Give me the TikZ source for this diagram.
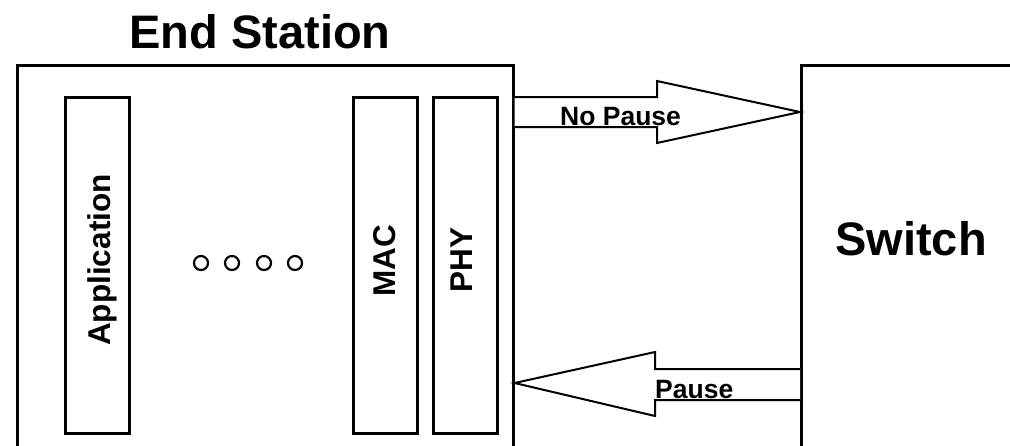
\documentclass[tikz,border=0pt]{standalone}
\usepackage{fontspec}
\setmainfont{Liberation Sans}
\begin{document}
\begin{tikzpicture}[x=1pt,y=-1pt,
  box/.style={draw=black,line width=2.6pt,rectangle,inner sep=0pt,anchor=north west},
  layer/.style={draw=black,line width=2.6pt,rectangle,inner sep=0pt,anchor=north west,minimum width=64pt,minimum height=336pt},
  vlabel/.style={rotate=90,anchor=base,inner sep=0pt,font=\fontsize{31.5}{38}\selectfont\bfseries},
  title/.style={anchor=base,inner sep=0pt,font=\fontsize{47}{56}\selectfont\bfseries},
  alabel/.style={anchor=base west,inner sep=0pt,font=\fontsize{26.5}{32}\selectfont\bfseries},
  blockarrow/.style={draw=black,line width=2pt,fill=white,line join=miter},
  dot/.style={draw=black,line width=2.2pt,circle,minimum size=14pt,inner sep=0pt}]
\clip (0,0) rectangle (1010,445);
\fill[white] (0,0) rectangle (1010,445);
% boxes
\node[box,minimum width=496pt,minimum height=420pt] (es) at (16,64) {};
\node[box,minimum width=260pt,minimum height=420pt] (sw) at (800,64) {};
\node[layer] (app) at (64,96) {};
\node[layer] (mac) at (352,96) {};
\node[layer] (phy) at (432,96) {};
% labels
\node[title] (estitle) at (260,48) {End Station};
\node[title] (swtitle) at (911,255) {Switch};
\node[vlabel] (applabel) at (110,260) {Application};
\node[vlabel] (maclabel) at (395,261) {MAC};
\node[vlabel] (phylabel) at (472,260) {PHY};
% dots
\node[dot] (d1) at (201,263) {};
\node[dot] (d2) at (232,263) {};
\node[dot] (d3) at (264,263) {};
\node[dot] (d4) at (295,263) {};
% No Pause arrow (end station -> switch)
\draw[blockarrow] (es.north east |- 0,97) -- (657,97) -- (657,81)
  -- (sw.north west |- 0,112) -- (657,143) -- (657,127) -- (es.north east |- 0,127);
\node[alabel] (nopause) at (560,125) {No Pause};
% Pause arrow (switch -> end station)
\draw[blockarrow] (sw.north west |- 0,369) -- (655,369) -- (655,352)
  -- (es.north east |- 0,383) -- (655,416) -- (655,400) -- (sw.north west |- 0,400);
\node[alabel] (pause) at (655,398) {Pause};
\end{tikzpicture}
\end{document}
